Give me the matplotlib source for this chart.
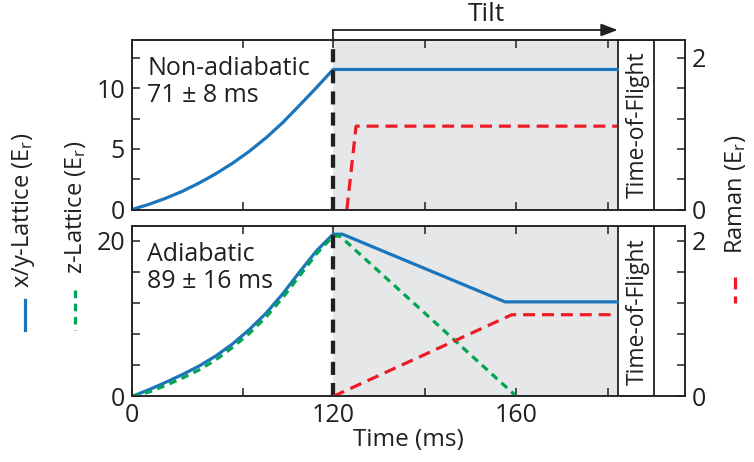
import numpy as np
import matplotlib
matplotlib.use("Agg")
import matplotlib.pyplot as plt
from matplotlib.lines import Line2D

plt.rcParams["font.family"] = ["Open Sans", "DejaVu Sans"]
plt.rcParams["mathtext.default"] = "regular"
plt.rcParams["lines.scale_dashes"] = False

INK = "#231f20"
BLUE = "#1b75bc"
RED = "#ed1c24"
GREEN = "#00a651"
SHADE = "#e6e7e8"

# lattice ramp (0-120 ms)
ramp_t = [0, 10, 20, 30, 40, 50, 60, 70, 80, 90, 100, 110, 120]
top_xy_ramp = [0, 0.42, 0.92, 1.5, 2.18, 2.95, 3.82, 4.8, 5.92, 7.18, 8.6, 10.05, 11.55]
bot_xy_ramp = [0, 0.85, 1.8, 2.8, 3.9, 5.2, 6.75, 8.6, 10.7, 13.2, 16.0, 18.7, 20.85]
bot_z_ramp = [0, 0.55, 1.4, 2.35, 3.4, 4.7, 6.3, 8.1, 10.2, 12.7, 15.5, 18.3, 20.6]

# non-adiabatic: lattice held, Raman switched on quickly
top_xy_t = ramp_t + [182]
top_xy = top_xy_ramp + [11.55]
top_raman_t = [123, 125, 182]
top_raman = [0, 1.10, 1.10]

# adiabatic: lattice ramped down while Raman ramps up
bot_xy_t = ramp_t + [122, 157.5, 182]
bot_xy = bot_xy_ramp + [20.85, 12.15, 12.15]
bot_z_t = ramp_t + [121.5, 160]
bot_z = bot_z_ramp + [20.6, 0]
bot_raman_t = [120, 159, 182]
bot_raman = [0, 1.05, 1.05]

T_TILT, T_TOF0, T_TOF1, T_END = 120, 182.1, 190.1, 196.8
X_MAJOR = [0, 120, 160]
X_MINOR = [66, 140, 180]

# ramp section is drawn compressed relative to the tilt section
A = 0.3659


def fwd(t):
    t = np.asarray(t, float)
    return np.where(t <= T_TILT, t * A, T_TILT * A + (t - T_TILT))


def inv(u):
    u = np.asarray(u, float)
    return np.where(u <= T_TILT * A, u / A, u - T_TILT * A + T_TILT)


fig = plt.figure(figsize=(7.54, 4.62), dpi=100)
W, H = 754, 462
L, R = 132, 685
ax_top = fig.add_axes([L / W, 1 - 209.5 / H, (R - L) / W, 169.5 / H])
ax_bot = fig.add_axes([L / W, 1 - 396.4 / H, (R - L) / W, 170.4 / H])

panels = [
    (ax_top, 13.98, 2.237, [0, 5, 10], [2.5, 7.5, 12.5], "Non-adiabatic\n71 ± 8 ms"),
    (ax_bot, 21.9, 2.19, [0, 20], [4, 8, 12, 16], "Adiabatic\n89 ± 16 ms"),
]

twins = []
for ax, ytop, rtop, ymaj, ymin, label in panels:
    ax.set_xscale("function", functions=(fwd, inv))
    ax.set_xlim(0, T_END)
    ax.set_ylim(0, ytop)
    ax.axvspan(T_TILT, T_TOF0, color=SHADE, lw=0, zorder=0)
    ax.axvspan(T_TOF0, T_TOF1, facecolor="white", edgecolor=INK, lw=1.3, zorder=1)
    ax.text((T_TOF0 + T_TOF1) / 2 + 0.3, 0.5, "Time-of-Flight", transform=ax.get_xaxis_transform(),
            rotation=90, ha="center", va="center", fontsize=16.5, color=INK)
    ax.axvline(T_TILT, color=INK, lw=3.1, dashes=(9.4, 5.8), zorder=4)
    ax.text(0.028, 0.905, label, transform=ax.transAxes, ha="left", va="top",
            fontsize=18, color=INK, linespacing=1.12)
    ax.set_yticks(ymaj)
    ax.set_yticks(ymin, minor=True)
    ax.set_xticks(X_MAJOR)
    ax.set_xticks(X_MINOR, minor=True)
    ax.tick_params(which="both", direction="in", top=True, length=6, width=1.1,
                   color=INK, labelsize=18, labelcolor=INK, pad=5)
    ax.xaxis.set_minor_formatter(plt.NullFormatter())
    for s in ax.spines.values():
        s.set_linewidth(1.1)
        s.set_color(INK)

    tw = ax.twinx()
    tw.set_ylim(0, rtop)
    tw.set_yticks([0, 2])
    tw.set_yticks([0.4, 0.8, 1.2, 1.6], minor=True)
    tw.tick_params(which="both", direction="in", length=6, width=1.1,
                   color=INK, labelsize=18, labelcolor=INK, pad=5)
    for s in tw.spines.values():
        s.set_linewidth(1.1)
        s.set_color(INK)
    twins.append(tw)

ax_top.tick_params(labelbottom=False)

tw_top, tw_bot = twins
ax_top.plot(top_xy_t, top_xy, color=BLUE, lw=2.3, zorder=3)
tw_top.plot(top_raman_t, top_raman, color=RED, lw=2.3, dashes=(8.6, 5))

ax_bot.plot(bot_xy_t, bot_xy, color=BLUE, lw=2.3, zorder=3)
ax_bot.plot(bot_z_t, bot_z, color=GREEN, lw=2.3, dashes=(5.5, 4), zorder=3)
tw_bot.plot(bot_raman_t, bot_raman, color=RED, lw=2.3, dashes=(8.6, 5))

ax_bot.set_xlabel("Time (ms)", fontsize=17.5, color=INK, labelpad=0)

# tilt arrow above the top panel
xt = ax_top.get_xaxis_transform()
ax_top.plot([T_TILT, T_TILT], [1.0, 1.059], color=INK, lw=1.3, transform=xt, clip_on=False)
ax_top.annotate("", xy=(T_TOF0, 1.059), xytext=(T_TILT, 1.059), xycoords=xt, textcoords=xt,
                arrowprops=dict(arrowstyle="-|>,head_length=1.0,head_width=0.38",
                                color=INK, lw=1.3, shrinkA=0, shrinkB=0))
ax_top.text(153.5, 1.075, "Tilt", transform=xt, ha="center", va="bottom",
            fontsize=19, color=INK)

# axis titles with their line keys
fig.text(24 / W, 1 - 210 / H, "x/y-Lattice (E$_{r}$)", rotation=90, ha="center",
         va="center", fontsize=17, color=INK)
fig.text(75 / W, 1 - 207 / H, "z-Lattice (E$_{r}$)", rotation=90, ha="center",
         va="center", fontsize=17, color=INK)
fig.text(736 / W, 1 - 194 / H, "Raman (E$_{r}$)", rotation=90, ha="center",
         va="center", fontsize=17, color=INK)
fig.add_artist(Line2D([25 / W, 25 / W], [1 - 300 / H, 1 - 330 / H], color=BLUE, lw=2.3,
                      transform=fig.transFigure))
fig.add_artist(Line2D([75 / W, 75 / W], [1 - 290 / H, 1 - 330 / H], color=GREEN, lw=2.3,
                      dashes=(5.5, 4), transform=fig.transFigure))
fig.add_artist(Line2D([735 / W, 735 / W], [1 - 277 / H, 1 - 303 / H], color=RED, lw=2.3,
                      dashes=(8.6, 5), transform=fig.transFigure))

fig.savefig("out.png", dpi=100)
